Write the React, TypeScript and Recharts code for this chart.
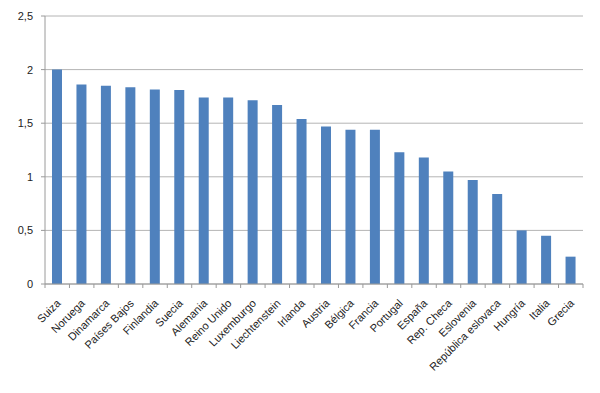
import React from 'react';
import { BarChart, Bar, XAxis, YAxis, CartesianGrid } from 'recharts';

const countries = [
  'Suiza', 'Noruega', 'Dinamarca', 'Países Bajos', 'Finlandia', 'Suecia', 'Alemania',
  'Reino Unido', 'Luxemburgo', 'Liechtenstein', 'Irlanda', 'Austria', 'Bélgica', 'Francia',
  'Portugal', 'España', 'Rep. Checa', 'Eslovenia', 'República eslovaca', 'Hungría', 'Italia', 'Grecia',
];
const values = [
  2.0, 1.86, 1.85, 1.835, 1.815, 1.81, 1.74, 1.74, 1.715, 1.67, 1.54, 1.47, 1.44, 1.44,
  1.23, 1.18, 1.05, 0.97, 0.84, 0.5, 0.45, 0.255,
];
const yTicks = [0, 0.5, 1, 1.5, 2, 2.5];

const data = countries.map((name, i) => ({ name, value: values[i] }));

const FONT = '"Liberation Sans", Arial, sans-serif';
const AXIS = '#9a9a9a';

// Excel-style: tick marks between categories, labels rotated -45
const CategoryTick = (props: any) => {
  const { x, y, payload, index } = props;
  const half = 538 / countries.length / 2;
  const last = index === countries.length - 1;
  const ax = x + 4;
  const ay = y + 20;
  return (
    <g>
      <line x1={x - half} x2={x - half} y1={y} y2={y + 4} stroke={AXIS} />
      {last && <line x1={x + half} x2={x + half} y1={y} y2={y + 4} stroke={AXIS} />}
      <text
        x={ax}
        y={ay}
        transform={`rotate(-45 ${ax} ${ay})`}
        textAnchor="end"
        fontSize={11}
        fontFamily={FONT}
        fill="#222"
      >
        {payload.value}
      </text>
    </g>
  );
};

const App: React.FC = () => {
  return (
    <div style={{ position: 'absolute', top: 0, left: 0, background: '#fff' }}>
      <BarChart
        width={600}
        height={393}
        data={data}
        margin={{ top: 16, right: 17, left: 0, bottom: 0 }}
      >
        <CartesianGrid vertical={false} stroke="#b4b4b4" />
        <XAxis
          dataKey="name"
          interval={0}
          height={109}
          tickLine={false}
          tickSize={0}
          tickMargin={0}
          axisLine={{ stroke: AXIS }}
          tick={<CategoryTick />}
        />
        <YAxis
          width={45}
          domain={[0, 2.5]}
          ticks={yTicks}
          interval={0}
          tickSize={4}
          tickMargin={8}
          axisLine={{ stroke: AXIS }}
          tickLine={{ stroke: AXIS }}
          tickFormatter={(v: number) => String(v).replace('.', ',')}
          tick={{ fontSize: 11, fontFamily: FONT, fill: '#222' }}
        />
        <Bar dataKey="value" fill="#4F81BD" barSize={10} isAnimationActive={false} />
      </BarChart>
    </div>
  );
};

export default App;
